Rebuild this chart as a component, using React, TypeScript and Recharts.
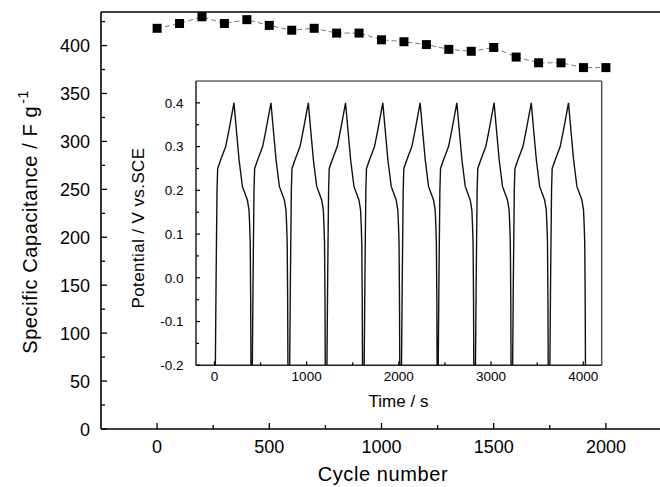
import React from 'react';
import { LineChart, Line, XAxis, YAxis, ReferenceLine } from 'recharts';

// ---- main chart data ----
const cycleNumbers = [0, 100, 200, 300, 400, 500, 600, 700, 800, 900, 1000, 1100, 1200, 1300, 1400, 1500, 1600, 1700, 1800, 1900, 2000];
const specificCapacitance = [418, 423, 430, 423, 427, 421, 416, 418, 413, 413, 406, 404, 401, 396, 394, 398, 388, 382, 382, 377, 377];
const mainXTicks = [0, 250, 500, 750, 1000, 1250, 1500, 1750, 2000];
const mainXLabels = [0, 500, 1000, 1500, 2000];
const mainYTicks = [0, 25, 50, 75, 100, 125, 150, 175, 200, 225, 250, 275, 300, 325, 350, 375, 400, 425];
const mainYLabels = [0, 50, 100, 150, 200, 250, 300, 350, 400];

// ---- inset data (galvanostatic charge/discharge) ----
const cycleStartTimes = [10, 411, 816, 1220, 1624, 2029, 2427, 2831, 3234, 3638];
const cycleTimeOffsets = [0, 8, 18, 25, 58, 112, 148, 202, 228, 257, 293, 347, 365, 372, 378, 383, 386];
const cyclePotentials = [-0.2, 0.0, 0.2, 0.25, 0.27, 0.3, 0.338, 0.4, 0.338, 0.27, 0.209, 0.178, 0.155, 0.12, 0.08, -0.05, -0.2];
const insetXTicks = [0, 500, 1000, 1500, 2000, 2500, 3000, 3500, 4000];
const insetXLabels = [0, 1000, 2000, 3000, 4000];
const insetYTicks = [-0.2, -0.15, -0.1, -0.05, 0, 0.05, 0.1, 0.15, 0.2, 0.25, 0.3, 0.35, 0.4];
const insetYLabels = [-0.2, -0.1, 0, 0.1, 0.2, 0.3, 0.4];

const mainData = cycleNumbers.map((c, i) => ({ cycle: c, cap: specificCapacitance[i] }));
const insetData = cycleStartTimes.flatMap((start) =>
  cycleTimeOffsets.map((off, j) => ({ t: start + off, v: cyclePotentials[j] }))
);

const FONT = '"Liberation Sans", Arial, Helvetica, sans-serif';

const isIn = (arr: number[], v: number) => arr.some((a) => Math.abs(a - v) < 1e-6);

const MainXTick = (props: any) => {
  const { x, y, payload } = props;
  const major = isIn(mainXLabels, payload.value);
  return (
    <g>
      <line x1={x} x2={x} y1={y} y2={y - (major ? 6 : 4)} stroke="#000" strokeWidth={1.3} />
      {major && (
        <text x={x} y={y + 24} textAnchor="middle" fontSize={18} fontFamily={FONT} fill="#000">
          {payload.value}
        </text>
      )}
    </g>
  );
};

const MainYTick = (props: any) => {
  const { x, y, payload } = props;
  const major = isIn(mainYLabels, payload.value);
  return (
    <g>
      <line x1={x} x2={x + (major ? 6 : 4)} y1={y} y2={y} stroke="#000" strokeWidth={1.3} />
      {major && (
        <text x={x - 11} y={y + 6.5} textAnchor="end" fontSize={18} fontFamily={FONT} fill="#000">
          {payload.value}
        </text>
      )}
    </g>
  );
};

const InsetXTick = (props: any) => {
  const { x, y, payload } = props;
  const major = isIn(insetXLabels, payload.value);
  return (
    <g>
      <line x1={x} x2={x} y1={y} y2={y - (major ? 4 : 3)} stroke="#000" strokeWidth={1.2} />
      {major && (
        <text x={x} y={y + 16} textAnchor="middle" fontSize={13.5} fontFamily={FONT} fill="#000">
          {payload.value}
        </text>
      )}
    </g>
  );
};

const InsetYTick = (props: any) => {
  const { x, y, payload } = props;
  const major = isIn(insetYLabels, payload.value);
  const val = Math.abs(payload.value) < 1e-9 ? '0.0' : Number(payload.value).toFixed(1);
  return (
    <g>
      <line x1={x} x2={x + (major ? 4 : 3)} y1={y} y2={y} stroke="#000" strokeWidth={1.2} />
      {major && (
        <text x={x - 12.5} y={y + 4.8} textAnchor="end" fontSize={13.5} fontFamily={FONT} fill="#000">
          {val}
        </text>
      )}
    </g>
  );
};

const SquareDot = (props: any) => {
  const { cx, cy, index } = props;
  if (cx == null || cy == null) return null;
  return <rect key={`sq-${index}`} x={cx - 4.5} y={cy - 4.5} width={9} height={9} fill="#000" />;
};

const mainXLabel = () => (
  <text x={383} y={481} textAnchor="middle" fontSize={20} fontFamily={FONT} fill="#000" letterSpacing={0.6}>
    Cycle number
  </text>
);

const mainYLabel = () => (
  <text
    transform="translate(37,222) rotate(-90)"
    textAnchor="middle"
    fontSize={20}
    fontFamily={FONT}
    fill="#000"
    letterSpacing={0.6}
  >
    Specific Capacitance / F g
    <tspan dx={2} dy={-9} fontSize={14}>
      -1
    </tspan>
  </text>
);

const insetXLabel = () => (
  <text x={288.5} y={337} textAnchor="middle" fontSize={17} fontFamily={FONT} fill="#000">
    Time / s
  </text>
);

const insetYLabel = () => (
  <text
    transform="translate(34,158) rotate(-90)"
    textAnchor="middle"
    fontSize={17}
    fontFamily={FONT}
    fill="#000"
    letterSpacing={0.4}
  >
    Potential / V vs.SCE
  </text>
);

export default function App() {
  return (
    <div
      style={{
        position: 'absolute',
        left: 0,
        top: 0,
        width: 660,
        height: 487,
        overflow: 'hidden',
        background: '#fff',
      }}
    >
      <LineChart width={664} height={487} data={mainData} margin={{ top: 12, right: 2, bottom: 18, left: 0 }}>
        <XAxis
          type="number"
          dataKey="cycle"
          domain={[-250, 2250]}
          allowDataOverflow
          ticks={mainXTicks}
          interval={0}
          tick={<MainXTick />}
          tickLine={false}
          tickSize={0}
          tickMargin={0}
          height={40}
          axisLine={{ stroke: '#000', strokeWidth: 1.6 }}
          label={mainXLabel}
        />
        <YAxis
          type="number"
          domain={[0, 435]}
          allowDataOverflow
          ticks={mainYTicks}
          interval={0}
          tick={<MainYTick />}
          tickLine={false}
          tickSize={0}
          tickMargin={0}
          width={101}
          axisLine={{ stroke: '#000', strokeWidth: 1.6 }}
          label={mainYLabel}
        />
        <ReferenceLine y={435} stroke="#000" strokeWidth={1.6} />
        <Line
          type="linear"
          dataKey="cap"
          stroke="#777"
          strokeWidth={1}
          strokeDasharray="5 3"
          dot={SquareDot}
          activeDot={false}
          isAnimationActive={false}
        />
      </LineChart>
      <div style={{ position: 'absolute', left: 110, top: 70 }}>
        <LineChart width={500} height={350} data={insetData} margin={{ top: 11, right: 8.3, bottom: 14.7, left: 0 }}>
          <XAxis
            type="number"
            dataKey="t"
            domain={[-200, 4200]}
            allowDataOverflow
            ticks={insetXTicks}
            interval={0}
            tick={<InsetXTick />}
            tickLine={false}
            tickSize={0}
            tickMargin={0}
            height={40}
            axisLine={{ stroke: '#222', strokeWidth: 1.5 }}
            label={insetXLabel}
          />
          <YAxis
            type="number"
            domain={[-0.2, 0.45]}
            allowDataOverflow
            ticks={insetYTicks}
            interval={0}
            tick={<InsetYTick />}
            tickLine={false}
            tickSize={0}
            tickMargin={0}
            width={86}
            axisLine={{ stroke: '#222', strokeWidth: 1.5 }}
            label={insetYLabel}
          />
          <ReferenceLine y={0.45} stroke="#666" strokeWidth={1.5} />
          <ReferenceLine x={4200} stroke="#555" strokeWidth={1.5} />
          <Line
            type="linear"
            dataKey="v"
            stroke="#111"
            strokeWidth={1.4}
            dot={false}
            activeDot={false}
            isAnimationActive={false}
          />
        </LineChart>
      </div>
    </div>
  );
}
